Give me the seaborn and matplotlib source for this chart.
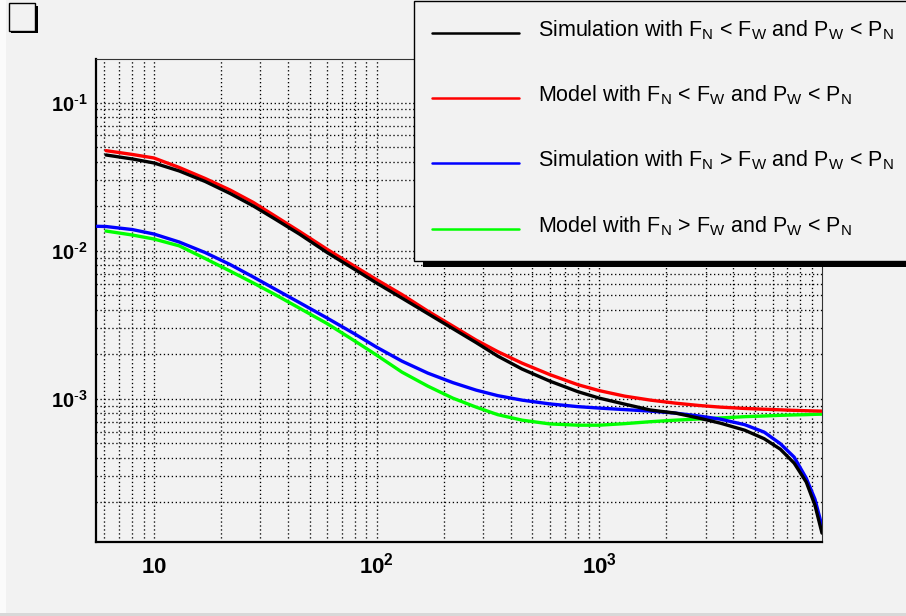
import numpy as np
import pandas as pd
import matplotlib
matplotlib.use("Agg")
import matplotlib.pyplot as plt
import seaborn as sns
from matplotlib.lines import Line2D
from matplotlib.patches import Rectangle
from matplotlib.ticker import FixedLocator, FixedFormatter, LogLocator, NullFormatter

# ---------------- data ----------------
energy = [6.1, 8, 10, 13, 17, 22, 28, 35, 45, 60, 80, 100, 130, 170, 220, 280, 350,
          450, 600, 800, 1000, 1300, 1700, 2200, 2800, 3500, 4500, 5500, 6500,
          7500, 8500, 9300, 10000]
energy_blue = [5.55, 6.1, 8, 10, 13, 17, 22, 28, 35, 45, 60, 80, 100, 130, 170, 220, 280,
               350, 450, 600, 800, 1000, 1300, 1700, 2200, 2800, 3500, 4500, 5500,
               6500, 7500, 8500, 9300, 10000]

sim_lt = [0.0443, 0.04165, 0.03914, 0.03456, 0.02935, 0.02435, 0.02004, 0.01637, 0.01297,
          0.00972, 0.00746, 0.00605, 0.00479, 0.00376, 0.002980, 0.002397, 0.001943,
          0.001589, 0.001317, 0.001119, 0.001011, 0.000921, 0.000840, 0.000801, 0.000741,
          0.000685, 0.000614, 0.000538, 0.000457, 0.000368, 0.000274, 0.000191, 0.000124]
model_lt = [0.04739, 0.04467, 0.04230, 0.03649, 0.03075, 0.02570, 0.02117, 0.01715, 0.01352,
            0.01022, 0.00783, 0.00638, 0.00506, 0.00391, 0.00310, 0.002492, 0.002084,
            0.001742, 0.001457, 0.001247, 0.001136, 0.001043, 0.000980, 0.000935, 0.000902,
            0.000879, 0.000861, 0.000851, 0.000843, 0.000836, 0.000831, 0.000828, 0.000826]
sim_gt = [0.01462, 0.01457, 0.01390, 0.01297, 0.01145, 0.00972, 0.00807, 0.00664, 0.00551,
          0.00447, 0.00351, 0.002736, 0.002234, 0.001797, 0.001491, 0.001287, 0.001145,
          0.001051, 0.000980, 0.000924, 0.000886, 0.000866, 0.000846, 0.000826, 0.000801,
          0.000766, 0.000729, 0.000669, 0.000596, 0.000498, 0.000404, 0.000291, 0.000210,
          0.000138]
model_gt = [0.01358, 0.01277, 0.01200, 0.01079, 0.00886, 0.00729, 0.00605, 0.00506, 0.00410,
            0.00322, 0.002454, 0.001974, 0.001515, 0.001218, 0.001011, 0.000879, 0.000782,
            0.000718, 0.000677, 0.000664, 0.000664, 0.000680, 0.000701, 0.000718, 0.000731,
            0.000743, 0.000758, 0.000766, 0.000774, 0.000779, 0.000782, 0.000786, 0.000788]

labels = [
    r"Simulation with F$_{\mathrm{N}}$ < F$_{\mathrm{W}}$ and P$_{\mathrm{W}}$ < P$_{\mathrm{N}}$",
    r"Model with F$_{\mathrm{N}}$ < F$_{\mathrm{W}}$ and P$_{\mathrm{W}}$ < P$_{\mathrm{N}}$",
    r"Simulation with F$_{\mathrm{N}}$ > F$_{\mathrm{W}}$ and P$_{\mathrm{W}}$ < P$_{\mathrm{N}}$",
    r"Model with F$_{\mathrm{N}}$ > F$_{\mathrm{W}}$ and P$_{\mathrm{W}}$ < P$_{\mathrm{N}}$",
]
colors = ["#000000", "#ff0000", "#0000ff", "#00ff00"]

x_ticks = [10, 100, 1000]
x_ticklabels = [r"$\mathbf{10}$", r"$\mathbf{10^{2}}$", r"$\mathbf{10^{3}}$"]
y_ticks = [1e-3, 1e-2, 1e-1]
y_ticklabels = [r"$\mathbf{10^{\text{-}3}}$", r"$\mathbf{10^{\text{-}2}}$", r"$\mathbf{10^{\text{-}1}}$"]

# ---------------- build table ----------------
frames = []
for name, xs, ys in [("s1", energy, sim_lt), ("m1", energy, model_lt),
                     ("s2", energy_blue, sim_gt), ("m2", energy, model_gt)]:
    frames.append(pd.DataFrame({"x": xs, "y": ys, "series": name}))
df = pd.concat(frames, ignore_index=True)
palette = dict(zip(["s1", "m1", "s2", "m2"], colors))

# ---------------- style ----------------
sns.set_style("white")
plt.rcParams["font.family"] = ["Liberation Sans", "DejaVu Sans"]
plt.rcParams["mathtext.fontset"] = "custom"
plt.rcParams["mathtext.rm"] = "Liberation Sans"
plt.rcParams["mathtext.it"] = "Liberation Sans:italic"
plt.rcParams["mathtext.bf"] = "Liberation Sans:bold"

W, H = 906, 616
BG = "#f2f2f2"
fig = plt.figure(figsize=(W / 100, H / 100), dpi=100, facecolor=BG)

def fx(px):
    return px / W

def fy(py):
    return 1 - py / H

L, R, T, B = 96, 822, 59, 542
ax = fig.add_axes([fx(L), fy(B), (R - L) / W, (B - T) / H])
ax.set_facecolor(BG)

for key in ["m2", "s2", "m1", "s1"]:
    sub = df[df["series"] == key]
    sns.lineplot(data=sub, x="x", y="y", color=palette[key], lw=2.4, ax=ax,
                 sort=False, estimator=None, legend=False, zorder=3)

ax.set_xscale("log")
ax.set_yscale("log")
ax.set_xlim(5.5, 1.0e4)
ax.set_ylim(1.08e-4, 0.197)
ax.set_xlabel("")
ax.set_ylabel("")

ax.xaxis.set_major_locator(FixedLocator(x_ticks))
ax.xaxis.set_major_formatter(FixedFormatter(x_ticklabels))
ax.xaxis.set_minor_locator(LogLocator(base=10, subs=np.arange(2, 10), numticks=30))
ax.xaxis.set_minor_formatter(NullFormatter())
ax.yaxis.set_major_locator(FixedLocator(y_ticks))
ax.yaxis.set_major_formatter(FixedFormatter(y_ticklabels))
ax.yaxis.set_minor_locator(LogLocator(base=10, subs=np.arange(2, 10), numticks=30))
ax.yaxis.set_minor_formatter(NullFormatter())

ax.grid(True, which="both", color="black", linestyle=(0, (1, 2)), linewidth=0.95)
ax.set_axisbelow(True)

ax.tick_params(axis="x", which="major", direction="in", length=11, width=1,
               labelsize=16, pad=22.5, colors="black")
ax.tick_params(axis="x", which="minor", direction="in", length=6, width=1)
ax.tick_params(axis="y", which="major", direction="in", length=9, width=1,
               labelsize=14.5, pad=6, colors="black")
ax.tick_params(axis="y", which="minor", direction="in", length=6, width=1)
ax.tick_params(top=False, right=False)
for t in ax.get_xticklabels():
    t.set_va("baseline")

for s in ["left", "bottom"]:
    ax.spines[s].set_linewidth(1.6)
    ax.spines[s].set_color("black")
for s in ["top", "right"]:
    ax.spines[s].set_linewidth(0.8)
    ax.spines[s].set_color("#333333")

# ---------------- canvas decorations ----------------
fig.add_artist(Rectangle((0, 0), fx(6), 1, transform=fig.transFigure,
                         facecolor="#fbfbfb", edgecolor="none", zorder=-1))
fig.add_artist(Rectangle((0, 0), 1, fy(613), transform=fig.transFigure,
                         facecolor="#d8d8d8", edgecolor="none", zorder=-1))

# empty title box with shadow
fig.add_artist(Rectangle((fx(11), fy(33)), fx(27), 27 / H, transform=fig.transFigure,
                         facecolor="black", edgecolor="none", zorder=8))
fig.add_artist(Rectangle((fx(8.5), fy(30.5)), fx(26.5), 27 / H, transform=fig.transFigure,
                         facecolor=BG, edgecolor="black", lw=1.0, zorder=9))

# legend box with shadow
fig.add_artist(Rectangle((fx(423), fy(267)), fx(600), (267 - 200) / H,
                         transform=fig.transFigure, facecolor="black",
                         edgecolor="none", zorder=8))
fig.add_artist(Rectangle((fx(414), fy(260.5)), fx(600), (260.5 - 1.5) / H,
                         transform=fig.transFigure, facecolor=BG,
                         edgecolor="black", lw=1.0, zorder=9))
row_y = [33, 98, 163, 229]
for yy, lab, col in zip(row_y, labels, colors):
    fig.add_artist(Line2D([fx(432), fx(519)], [fy(yy), fy(yy)], transform=fig.transFigure,
                          color=col, lw=1.8, zorder=10))
    fig.text(fx(538), fy(yy + 3.5), lab, fontsize=15.5, ha="left", va="baseline",
             color="black", zorder=11)

fig.savefig("out.png", dpi=100, facecolor=BG)
